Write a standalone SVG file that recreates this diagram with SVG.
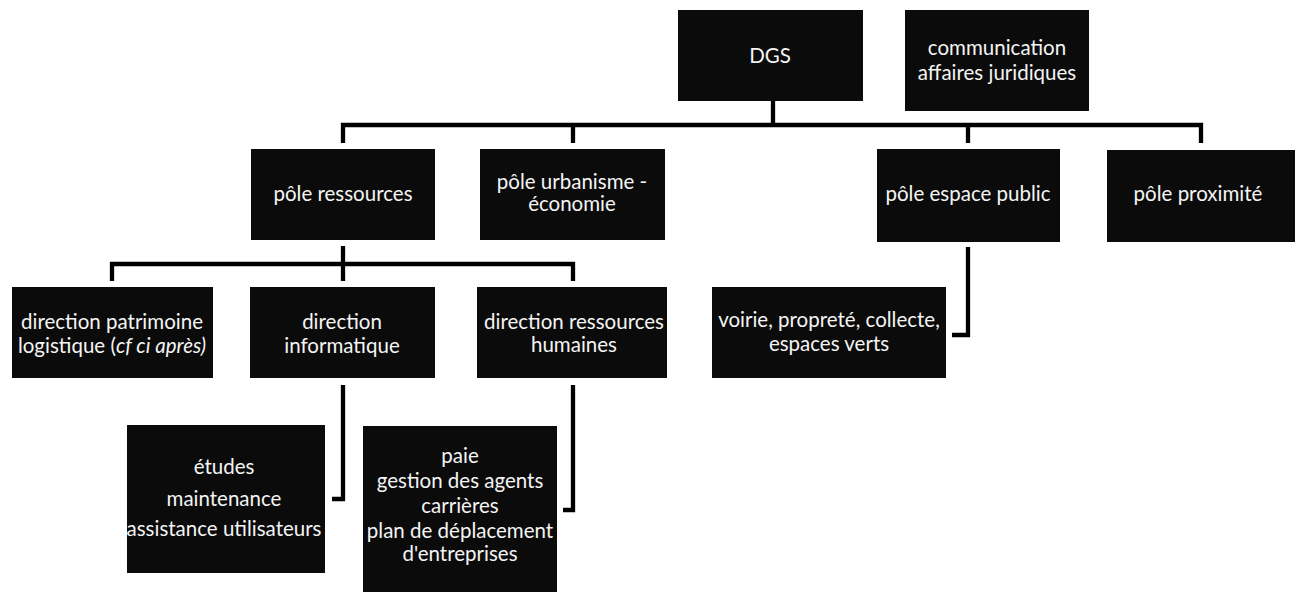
<svg xmlns="http://www.w3.org/2000/svg" width="1301" height="592" viewBox="0 0 1301 592">
  <style>
    .box { fill: #0b0b0b; }
    .t { fill: #f4f4f4; font-family: Lato, "Open Sans", "Liberation Sans", sans-serif; font-size: 20.5px; text-anchor: middle; }
    .i { font-style: italic; }
    .c { fill: none; stroke: #000; stroke-width: 4.3; stroke-linejoin: miter; stroke-linecap: butt; }
  </style>
  <rect width="1301" height="592" fill="#ffffff"/>

  <g id="connectors">
    <path class="c" d="M773,101 V125"/>
    <path class="c" d="M343,143 V125 H1201 V143"/>
    <path class="c" d="M573,125 V143"/>
    <path class="c" d="M968,125 V143"/>
    <path class="c" d="M343,246 V281"/>
    <path class="c" d="M112,281 V264 H573 V281"/>
    <path class="c" d="M343,385 V499 H332"/>
    <path class="c" d="M573,385 V510 H563"/>
    <path class="c" d="M968,247 V335 H952"/>
  </g>

  <g id="dgs">
    <rect class="box" x="678" y="10" width="185" height="91"/>
    <text class="t" x="770" y="63">DGS</text>
  </g>
  <g id="communication">
    <rect class="box" x="905" y="10" width="184" height="101"/>
    <text class="t" x="997" y="55">communication</text>
    <text class="t" x="997" y="80">affaires juridiques</text>
  </g>
  <g id="pole-ressources">
    <rect class="box" x="251" y="149" width="184" height="91"/>
    <text class="t" x="343" y="201">pôle ressources</text>
  </g>
  <g id="pole-urbanisme">
    <rect class="box" x="480" y="149" width="185" height="91"/>
    <text class="t" x="572" y="189">pôle urbanisme -</text>
    <text class="t" x="572" y="211">économie</text>
  </g>
  <g id="pole-espace-public">
    <rect class="box" x="877" y="149" width="183" height="93"/>
    <text class="t" x="968" y="201">pôle espace public</text>
  </g>
  <g id="pole-proximite">
    <rect class="box" x="1107" y="150" width="188" height="92"/>
    <text class="t" x="1198" y="201">pôle proximité</text>
  </g>
  <g id="direction-patrimoine">
    <rect class="box" x="12" y="287" width="201" height="91"/>
    <text class="t" x="112" y="329">direction patrimoine</text>
    <text class="t" x="112" y="353">logistique (<tspan class="i">cf ci après)</tspan></text>
  </g>
  <g id="direction-informatique">
    <rect class="box" x="250" y="287" width="185" height="91"/>
    <text class="t" x="342" y="329">direction</text>
    <text class="t" x="342" y="353">informatique</text>
  </g>
  <g id="direction-rh">
    <rect class="box" x="477" y="287" width="190" height="91"/>
    <text class="t" x="574" y="329">direction ressources</text>
    <text class="t" x="574" y="352">humaines</text>
  </g>
  <g id="voirie">
    <rect class="box" x="712" y="287" width="234" height="91"/>
    <text class="t" x="829" y="327">voirie, propreté, collecte,</text>
    <text class="t" x="829" y="351">espaces verts</text>
  </g>
  <g id="informatique-missions">
    <rect class="box" x="127" y="425" width="198" height="148"/>
    <text class="t" x="224" y="474">études</text>
    <text class="t" x="224" y="506">maintenance</text>
    <text class="t" x="224" y="536">assistance utilisateurs</text>
  </g>
  <g id="rh-missions">
    <rect class="box" x="363" y="426" width="194" height="170"/>
    <text class="t" x="460" y="463">paie</text>
    <text class="t" x="460" y="488">gestion des agents</text>
    <text class="t" x="460" y="513">carrières</text>
    <text class="t" x="460" y="538">plan de déplacement</text>
    <text class="t" x="460" y="561">d'entreprises</text>
  </g>
</svg>
